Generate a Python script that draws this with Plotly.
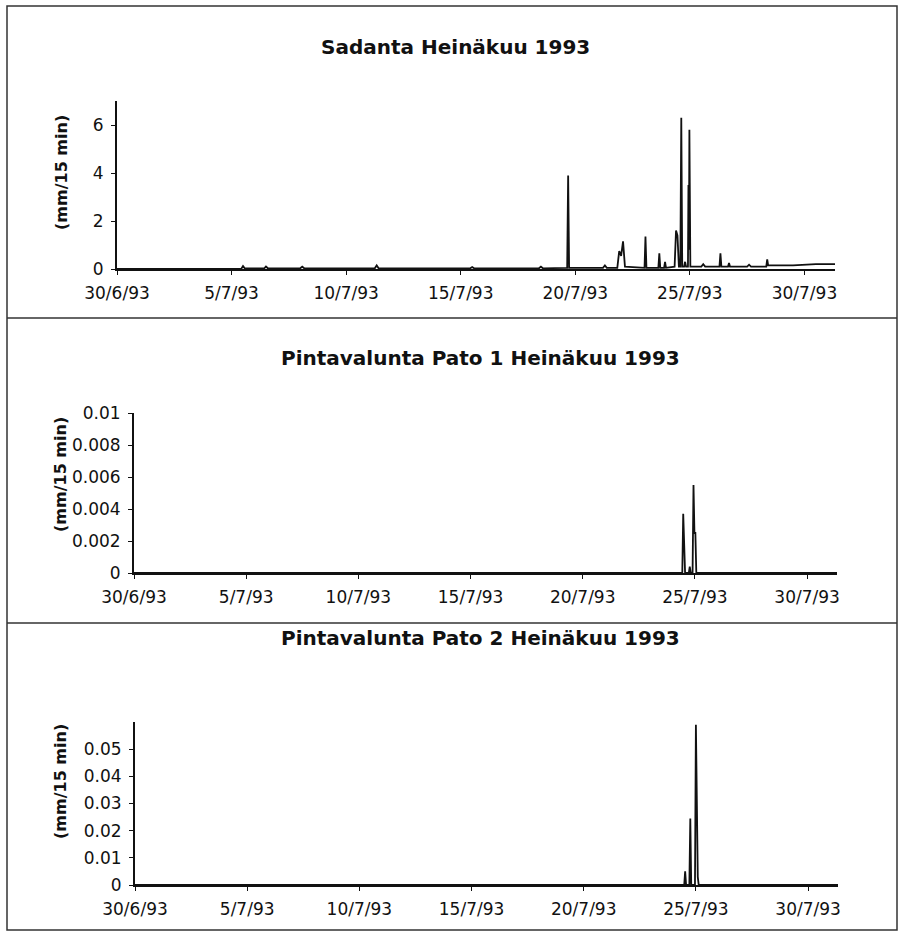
import plotly.graph_objects as go

W, H = 906, 935

# ---------------- data ----------------
tick_dates = ["1993-06-30", "1993-07-05", "1993-07-10", "1993-07-15",
              "1993-07-20", "1993-07-25", "1993-07-30"]
tick_labels = ["30/6/93", "5/7/93", "10/7/93", "15/7/93", "20/7/93", "25/7/93", "30/7/93"]

titles = ["Sadanta Heinäkuu 1993",
          "Pintavalunta Pato 1 Heinäkuu 1993",
          "Pintavalunta Pato 2 Heinäkuu 1993"]
y_title = "(mm/15 min)"

# Sadanta (precipitation), mm/15 min
p1_times = ["1993-06-30 00:00", "1993-07-05 10:00", "1993-07-05 12:00", "1993-07-05 14:00",
            "1993-07-06 10:00", "1993-07-06 12:00", "1993-07-06 14:00",
            "1993-07-08 00:00", "1993-07-08 02:00", "1993-07-08 04:00",
            "1993-07-11 06:00", "1993-07-11 08:00", "1993-07-11 10:00",
            "1993-07-15 10:00", "1993-07-15 12:00", "1993-07-15 14:00",
            "1993-07-18 10:00", "1993-07-18 12:00", "1993-07-18 14:00",
            "1993-07-19 15:30", "1993-07-19 16:30", "1993-07-19 17:30",
            "1993-07-21 05:00", "1993-07-21 07:00", "1993-07-21 09:00",
            "1993-07-21 20:00", "1993-07-21 21:00", "1993-07-21 22:00", "1993-07-22 00:00",
            "1993-07-22 02:00", "1993-07-22 04:00",
            "1993-07-23 00:30", "1993-07-23 01:30", "1993-07-23 02:30",
            "1993-07-23 15:00", "1993-07-23 16:00", "1993-07-23 17:00",
            "1993-07-23 21:00", "1993-07-23 22:00", "1993-07-23 23:00",
            "1993-07-24 08:00", "1993-07-24 09:30", "1993-07-24 11:00", "1993-07-24 12:30",
            "1993-07-24 14:00", "1993-07-24 15:00", "1993-07-24 16:00",
            "1993-07-24 18:00", "1993-07-24 19:00", "1993-07-24 20:00",
            "1993-07-24 22:00", "1993-07-24 22:30", "1993-07-24 23:00", "1993-07-24 23:30",
            "1993-07-25 00:30",
            "1993-07-25 12:00", "1993-07-25 14:00", "1993-07-25 16:00",
            "1993-07-26 07:00", "1993-07-26 08:00", "1993-07-26 09:00",
            "1993-07-26 16:00", "1993-07-26 17:00", "1993-07-26 18:00",
            "1993-07-27 12:00", "1993-07-27 14:00", "1993-07-27 16:00",
            "1993-07-28 08:00", "1993-07-28 09:00", "1993-07-28 10:00",
            "1993-07-29 12:00", "1993-07-30 12:00", "1993-07-31 08:00"]
p1_vals = [0, 0, 0.12, 0.02,
           0.02, 0.1, 0.03,
           0.03, 0.1, 0.03,
           0.03, 0.15, 0.03,
           0.03, 0.08, 0.03,
           0.03, 0.1, 0.03,
           0.05, 3.9, 0.05,
           0.05, 0.15, 0.05,
           0.05, 0.4, 0.75, 0.55,
           1.15, 0.1,
           0.05, 1.35, 0.05,
           0.05, 0.65, 0.05,
           0.05, 0.3, 0.05,
           0.1, 1.6, 1.4, 0.1,
           0.1, 6.3, 0.1,
           0.1, 0.3, 0.1,
           0.1, 3.5, 0.8, 5.8,
           0.1,
           0.1, 0.2, 0.1,
           0.1, 0.65, 0.1,
           0.1, 0.25, 0.1,
           0.1, 0.18, 0.1,
           0.1, 0.4, 0.15,
           0.15, 0.2, 0.2]

# Pintavalunta Pato 1 (surface runoff, dam 1)
p2_times = ["1993-06-30 00:00", "1993-07-24 10:30", "1993-07-24 11:30", "1993-07-24 12:30",
            "1993-07-24 13:30", "1993-07-24 17:30", "1993-07-24 18:30", "1993-07-24 19:30",
            "1993-07-24 21:30", "1993-07-24 22:30", "1993-07-24 23:30", "1993-07-25 00:30",
            "1993-07-25 01:30", "1993-07-31 08:00"]
p2_vals = [0, 0, 0.0037, 0.002,
           0, 0, 0.0004, 0,
           0, 0.0055, 0.0025, 0.0025,
           0, 0]

# Pintavalunta Pato 2 (surface runoff, dam 2)
p3_times = ["1993-06-30 00:00", "1993-07-24 11:30", "1993-07-24 12:30", "1993-07-24 13:30",
            "1993-07-24 17:00", "1993-07-24 18:00", "1993-07-24 19:00", "1993-07-24 23:00",
            "1993-07-25 00:00", "1993-07-25 01:00", "1993-07-25 02:00", "1993-07-25 03:00",
            "1993-07-31 08:00"]
p3_vals = [0, 0, 0.005, 0,
           0, 0.0245, 0, 0,
           0.059, 0.012, 0.003, 0,
           0]

y1_ticks = [0, 2, 4, 6]
y2_ticks = [0, 0.002, 0.004, 0.006, 0.008, 0.01]
y2_text = ["0", "0.002", "0.004", "0.006", "0.008", "0.01"]
y3_ticks = [0, 0.01, 0.02, 0.03, 0.04, 0.05]
y3_text = ["0", "0.01", "0.02", "0.03", "0.04", "0.05"]

# ---------------- layout helpers ----------------
def px_x(p):
    return p / W

def px_y(p):
    return 1 - p / H

FONT = "DejaVu Sans"
x_range = ["1993-06-30 00:00", "1993-07-31 08:00"]

fig = go.Figure()
series = [(p1_times, p1_vals), (p2_times, p2_vals), (p3_times, p3_vals)]
for i, (t, v) in enumerate(series):
    sfx = "" if i == 0 else str(i + 1)
    fig.add_trace(go.Scatter(x=t, y=v, mode="lines",
                             line=dict(color="#111111", width=1.8),
                             xaxis="x" + sfx, yaxis="y" + sfx,
                             showlegend=False, hoverinfo="skip"))

# pixel geometry of each panel: (x0, x1, y_bottom, y_top)
panels = [(117, 835, 269, 101), (134, 837, 573, 413), (135, 838, 885, 722)]
y_ranges = [[0, 7], [0, 0.01], [0, 0.06]]
y_tickvals = [y1_ticks, y2_ticks, y3_ticks]
y_ticktext = [[str(v) for v in y1_ticks], y2_text, y3_text]

axis_common = dict(showline=True, linecolor="#111111", linewidth=2, showgrid=False,
                   zeroline=False, ticks="outside", ticklen=4, tickcolor="#111111",
                   automargin=False,
                   tickfont=dict(family=FONT, size=17, color="#111111"))

lay = {}
for i, (x0, x1, yb, yt) in enumerate(panels):
    sfx = "" if i == 0 else str(i + 1)
    lay["xaxis" + sfx] = dict(axis_common, domain=[px_x(x0), px_x(x1)],
                              anchor="y" + sfx, type="date", range=x_range,
                              tickmode="array", tickvals=tick_dates, ticktext=tick_labels,
                              ticklabelstandoff=4)
    lay["yaxis" + sfx] = dict(axis_common, domain=[px_y(yb), px_y(yt)],
                              anchor="x" + sfx, range=y_ranges[i],
                              tickmode="array", tickvals=y_tickvals[i],
                              ticktext=y_ticktext[i], ticklabelstandoff=4)

fig.update_layout(template="none", width=W, height=H,
                  margin=dict(l=0, r=0, t=0, b=0, pad=0, autoexpand=False),
                  paper_bgcolor="white", plot_bgcolor="white", showlegend=False,
                  font=dict(family=FONT, color="#111111"), **lay)

# titles
title_pos = [(455, 47), (480, 358), (480, 638)]
ylab_pos = [(61, 173), (60, 475), (60, 782)]
for i in range(3):
    fig.add_annotation(text="<b>" + titles[i] + "</b>", xref="paper", yref="paper",
                       x=px_x(title_pos[i][0]), y=px_y(title_pos[i][1]),
                       xanchor="center", yanchor="middle", showarrow=False,
                       font=dict(family=FONT, size=20, color="#111111"))
    fig.add_annotation(text="<b>" + y_title + "</b>", xref="paper", yref="paper",
                       x=px_x(ylab_pos[i][0]), y=px_y(ylab_pos[i][1]), textangle=-90,
                       xanchor="center", yanchor="middle", showarrow=False,
                       font=dict(family=FONT, size=16, color="#111111"))

# outer frame and dividers
line_style = dict(color="#333333", width=1.5)
fig.add_shape(type="rect", xref="paper", yref="paper",
              x0=px_x(7), x1=px_x(897), y0=px_y(930), y1=px_y(6), line=line_style)
for yy in (318, 623):
    fig.add_shape(type="line", xref="paper", yref="paper",
                  x0=px_x(7), x1=px_x(897), y0=px_y(yy), y1=px_y(yy), line=line_style)

fig.write_html("out.html")
